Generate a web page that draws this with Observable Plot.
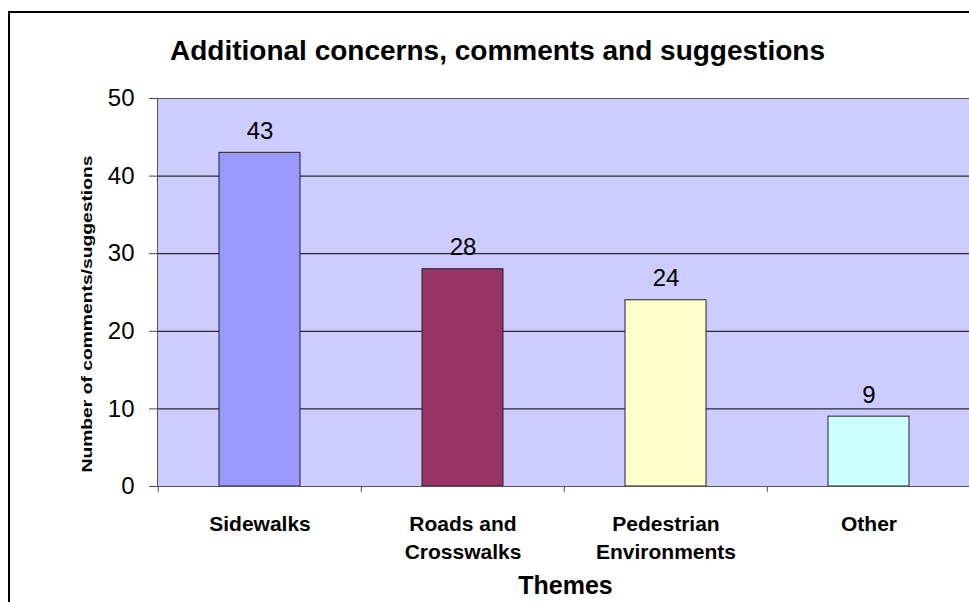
<!DOCTYPE html>
<html><head><meta charset="utf-8">
<script src="https://cdn.jsdelivr.net/npm/d3@7"></script>
<script src="https://cdn.jsdelivr.net/npm/@observablehq/plot@0.6"></script>
<style>
html,body{margin:0;padding:0;background:#fff;overflow:hidden;}
#wrap{position:relative;width:969px;height:602px;overflow:hidden;}
#border{position:absolute;left:8px;top:11px;width:2000px;height:2000px;border-left:2px solid #000;border-top:2px solid #000;pointer-events:none;}
</style></head><body>
<div id="wrap"><div id="border"></div></div>
<script>
const categories = ["Sidewalks", "Roads and\nCrosswalks", "Pedestrian\nEnvironments", "Other"];
const counts = [43, 28, 24, 9];
const barColors = ["#9999FF", "#993366", "#FFFFCC", "#CCFFFF"];
const yTicks = [0, 10, 20, 30, 40, 50];
const gridValues = [10, 20, 30, 40];
const title = "Additional concerns, comments and suggestions";
const xTitle = "Themes";
const yTitle = "Number of comments/suggestions";

const data = categories.map((c, i) => ({category: c, count: counts[i], color: barColors[i]}));
const font = "'Liberation Sans', Arial, sans-serif";
const W = 969, ML = 157, MR = -2;
const step = (W - MR - ML) / categories.length;

const chart = Plot.plot({
  width: W, height: 602,
  marginLeft: ML, marginRight: MR, marginTop: 98, marginBottom: 116,
  style: {fontFamily: font, background: "transparent", color: "#000"},
  x: {domain: categories, paddingInner: 0.6, paddingOuter: 0.3, axis: null},
  y: {domain: [0, 50], axis: null},
  marks: [
    Plot.frame({fill: "#CCCCFF"}),
    Plot.ruleY(gridValues, {stroke: "#000", strokeWidth: 1}),
    Plot.barY(data, {x: "category", y: "count", fill: "color", stroke: "#222", strokeWidth: 1}),
    Plot.frame({stroke: "#555"}),
    Plot.ruleX(categories, {x: d => d, y1: 0, y2: -0.75, dx: -step / 2, stroke: "#444"}),
    Plot.axisY(yTicks, {label: null, tickSize: 8, tickPadding: 15, fontSize: 24, stroke: "#444", fill: "#000"}),
    Plot.axisX({label: null, tickSize: 0, tickPadding: 25, fontSize: 21, fontWeight: "bold", lineHeight: 1.33, fill: "#000"}),
    Plot.text(data, {x: "category", y: "count", text: d => String(d.count), lineAnchor: "bottom", dy: -14, fontSize: 24, fill: "#000"}),
    Plot.text([title], {frameAnchor: "top", lineAnchor: "bottom", dy: -39, dx: -67, fontSize: 28, fontWeight: "bold", fill: "#000"}),
    Plot.text([xTitle], {frameAnchor: "bottom", lineAnchor: "bottom", dy: 107, dx: 1, fontSize: 25, fontWeight: "bold", fill: "#000"}),
    Plot.text([yTitle], {frameAnchor: "left", rotate: -90, textAnchor: "start", dx: -70, dy: 180, fontSize: 14, fontWeight: "bold", fill: "#000"})
  ]
});
d3.select(chart).selectAll("text").filter(function() { return this.textContent === yTitle; })
  .attr("textLength", 317).attr("lengthAdjust", "spacingAndGlyphs");
document.getElementById("wrap").appendChild(chart);
</script>
</body></html>
